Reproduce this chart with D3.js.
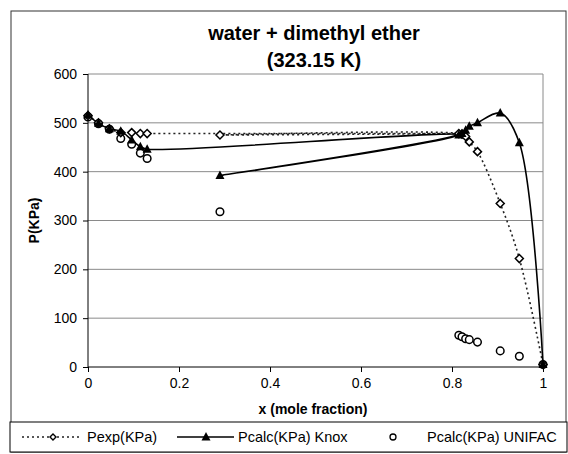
<!DOCTYPE html>
<html>
<head>
<meta charset="utf-8">
<script src="https://cdn.jsdelivr.net/npm/d3@7"></script>
<style>
    body { margin: 0; background: #fff; }
    svg { font-family: "Liberation Sans", Arial, sans-serif; }
    .grid line { stroke: #8a8a8a; stroke-width: 1; }
    .axis text { font-size: 14px; fill: #000; }
    .axis path, .axis line { stroke: #000; }
</style>
</head>
<body>
<svg id="chart" width="568" height="454"></svg>
<script>
// mole fraction of each measurement (same order as in the source table)
const xs = [0, 0.023, 0.047, 0.072, 0.096, 0.115, 0.13, 0.815, 0.29, 0.822, 0.83, 0.838, 0.856, 0.906, 0.948, 1];
const pExp = [515, 500, 488, 480, 480, 478, 478, 478, 475, 477, 472, 461, 441, 335, 222, 5];
const pKnox = [516, 499, 488, 483, 465, 451, 446, 475, 392, 478, 485, 493, 500, 520, 459, 5];
const pUnifac = [512, 498, 487, 468, 456, 438, 427, 65, 318, 62, 58, 56, 51, 33, 22, 5];

const xTicks = [0, 0.2, 0.4, 0.6, 0.8, 1];
const yTicks = [0, 100, 200, 300, 400, 500, 600];
const seriesNames = ['Pexp(KPa)', 'Pcalc(KPa) Knox', 'Pcalc(KPa) UNIFAC'];

const svg = d3.select('#chart');

const x = d3.scaleLinear().domain([0, 1]).range([88, 543]);
const y = d3.scaleLinear().domain([0, 600]).range([367, 74]);

// outer chart frame
svg.append('rect')
    .attr('x', 11).attr('y', 11)
    .attr('width', 555).attr('height', 441)
    .attr('fill', 'none')
    .attr('stroke', '#333')
    .attr('stroke-width', 1);

// gridlines
svg.append('g')
    .attr('class', 'grid')
    .selectAll('line')
    .data(yTicks.filter(d => d > 0))
    .enter().append('line')
    .attr('x1', x(0)).attr('x2', x(1))
    .attr('y1', d => y(d)).attr('y2', d => y(d));

// right edge of plot area
svg.append('line')
    .attr('x1', x(1)).attr('x2', x(1))
    .attr('y1', y(600)).attr('y2', y(0))
    .attr('stroke', '#8a8a8a');

const xAxis = svg.append('g')
    .attr('class', 'axis')
    .attr('transform', `translate(0,${y(0)})`)
    .call(d3.axisBottom(x).tickValues(xTicks).tickSize(5).tickPadding(6)
        .tickFormat(d => d3.format('~g')(d)));
xAxis.select('.domain').attr('d', `M${x(0)},0H${x(1)}`);

const yAxis = svg.append('g')
    .attr('class', 'axis')
    .attr('transform', `translate(${x(0)},0)`)
    .call(d3.axisLeft(y).tickValues(yTicks).tickSize(5).tickPadding(6));
yAxis.select('.domain').attr('d', `M0,${y(600)}V${y(0)}`);

// titles
svg.append('text')
    .attr('x', 314).attr('y', 40)
    .attr('text-anchor', 'middle')
    .style('font-size', '20px').style('font-weight', 'bold')
    .text('water + dimethyl ether');
svg.append('text')
    .attr('x', 314).attr('y', 67)
    .attr('text-anchor', 'middle')
    .style('font-size', '20px').style('font-weight', 'bold')
    .text('(323.15 K)');

svg.append('text')
    .attr('x', 313).attr('y', 414)
    .attr('text-anchor', 'middle')
    .style('font-size', '14px').style('font-weight', 'bold')
    .text('x (mole fraction)');

svg.append('text')
    .attr('transform', `translate(39,${y(300)}) rotate(-90)`)
    .attr('text-anchor', 'middle')
    .style('font-size', '14px').style('font-weight', 'bold')
    .text('P(KPa)');

// series
const line = vals => d3.line()
    .x((d, i) => x(xs[i]))
    .y(d => y(d))
    .curve(d3.curveCatmullRom.alpha(0.5))(vals);

svg.append('path')
    .attr('d', line(pExp))
    .attr('fill', 'none')
    .attr('stroke', '#222')
    .attr('stroke-width', 1.6)
    .attr('stroke-dasharray', '2,3');

svg.append('path')
    .attr('d', line(pKnox))
    .attr('fill', 'none')
    .attr('stroke', '#000')
    .attr('stroke-width', 1.6);

// square diamond and triangle markers
const diamond = 'M0,-4L4,0L0,4L-4,0Z';
const triangle = 'M0,-5L4.5,3.5L-4.5,3.5Z';

svg.append('g').selectAll('circle')
    .data(pUnifac)
    .enter().append('circle')
    .attr('cx', (d, i) => x(xs[i]))
    .attr('cy', d => y(d))
    .attr('r', 3.8)
    .attr('fill', '#fff')
    .attr('stroke', '#000')
    .attr('stroke-width', 1.5);

svg.append('g').selectAll('path')
    .data(pExp)
    .enter().append('path')
    .attr('d', diamond)
    .attr('transform', (d, i) => `translate(${x(xs[i])},${y(d)})`)
    .attr('fill', '#fff')
    .attr('stroke', '#000')
    .attr('stroke-width', 1.5);

svg.append('g').selectAll('path')
    .data(pKnox)
    .enter().append('path')
    .attr('d', triangle)
    .attr('transform', (d, i) => `translate(${x(xs[i])},${y(d)})`)
    .attr('fill', '#000');

// legend
const legend = svg.append('g');
legend.append('rect')
    .attr('x', 10).attr('y', 422)
    .attr('width', 557).attr('height', 30)
    .attr('fill', '#fff')
    .attr('stroke', '#000');

const ly = 437;
legend.append('line')
    .attr('x1', 22).attr('x2', 82).attr('y1', ly).attr('y2', ly)
    .attr('stroke', '#222').attr('stroke-width', 1.6)
    .attr('stroke-dasharray', '2,3');
legend.append('path')
    .attr('d', 'M0,-3L3,0L0,3L-3,0Z')
    .attr('transform', `translate(53,${ly})`)
    .attr('fill', '#fff').attr('stroke', '#000').attr('stroke-width', 1.4);
legend.append('line')
    .attr('x1', 177).attr('x2', 234).attr('y1', ly).attr('y2', ly)
    .attr('stroke', '#000').attr('stroke-width', 1.6);
legend.append('path')
    .attr('d', triangle)
    .attr('transform', `translate(206,${ly})`)
    .attr('fill', '#000');
legend.append('circle')
    .attr('cx', 393).attr('cy', ly).attr('r', 3)
    .attr('fill', '#fff').attr('stroke', '#000').attr('stroke-width', 1.3);

const labelX = [87, 238, 427];
legend.selectAll('text.lbl')
    .data(seriesNames)
    .enter().append('text')
    .attr('class', 'lbl')
    .attr('x', (d, i) => labelX[i])
    .attr('y', ly + 5)
    .style('font-size', '14.5px')
    .text(d => d);
</script>
</body>
</html>
